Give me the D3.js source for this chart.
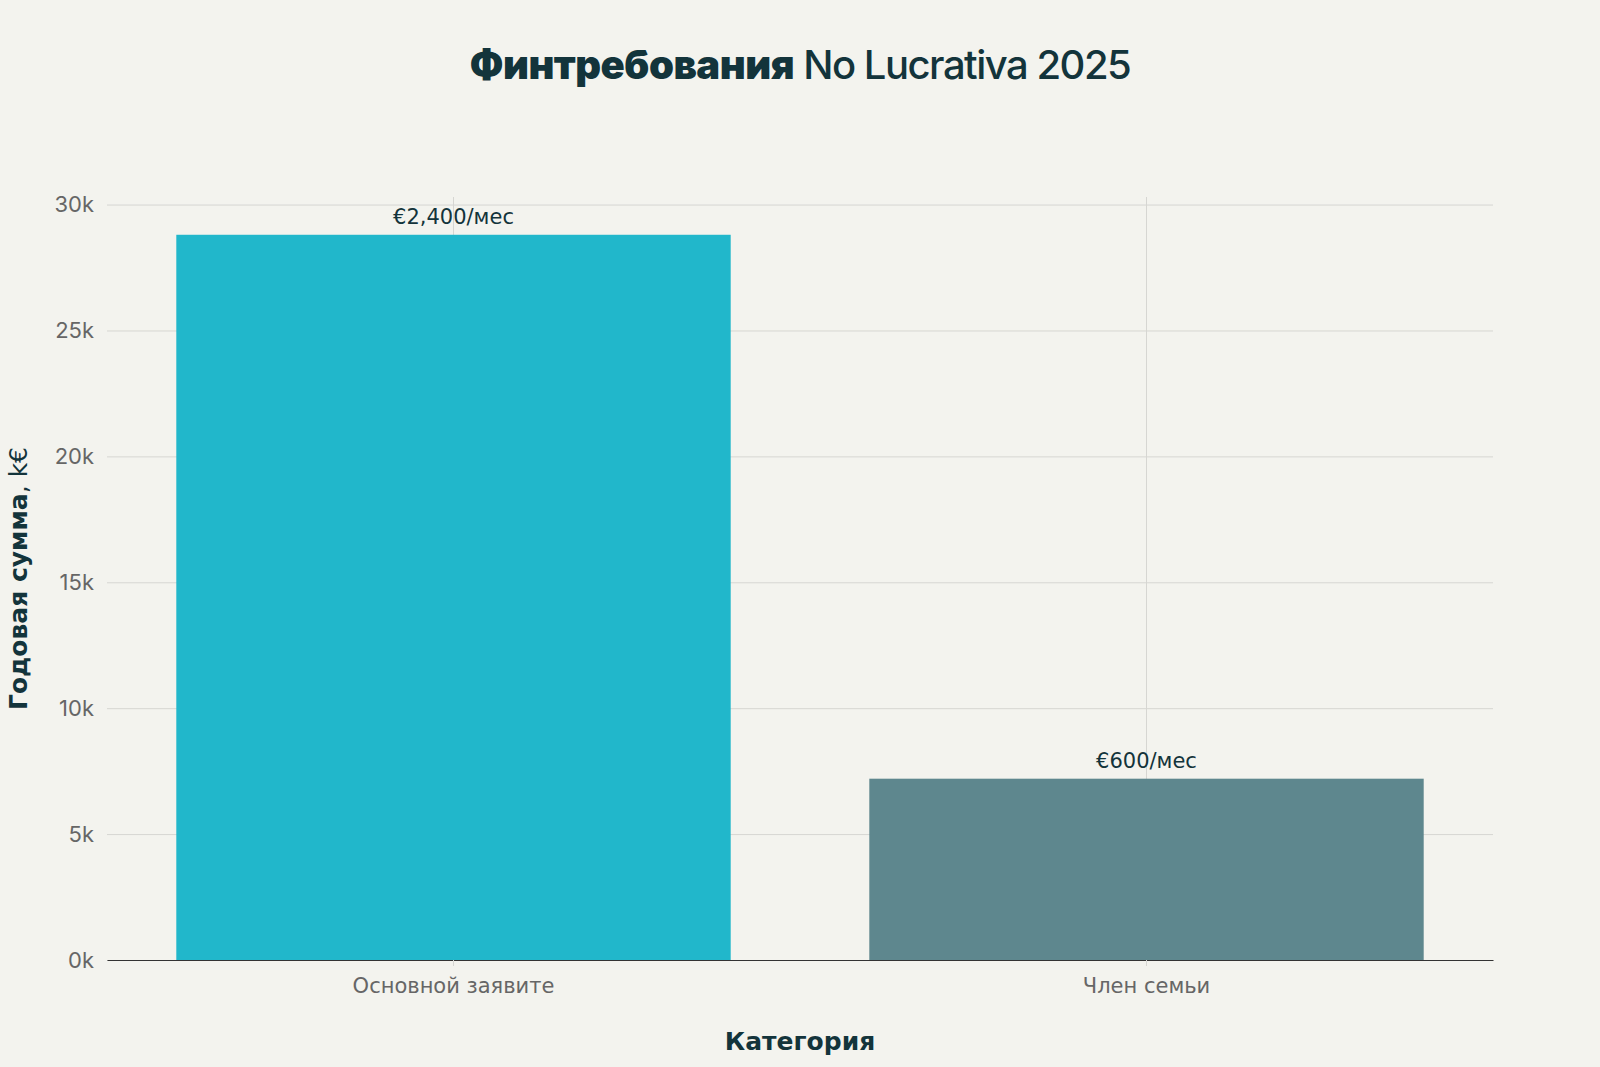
<!DOCTYPE html>
<meta charset="utf-8">
<style>
  body{ margin:0; background:#f3f3ee; }
  .grid line{ stroke:#d6d6d2; stroke-width:1; }
  .grid path{ display:none; }
  .yaxis text{ font-family:Inter, "DejaVu Sans", sans-serif; font-size:22px; fill:#666; }
  .xaxis text{ font-family:"DejaVu Sans", sans-serif; font-size:21px; fill:#666; }
  .label{ font-family:"DejaVu Sans", sans-serif; font-size:21px; fill:#13343b; }
</style>
<body>
<script src="https://cdn.jsdelivr.net/npm/d3@7"></script>
<script>

  var categories = ["Основной заявите", "Член семьи"];
  var annual = [28800, 7200];
  var monthlyLabels = ["€2,400/мес", "€600/мес"];
  var colors = ["#21b7cb", "#5e878e"];
  var yTicks = [0, 5000, 10000, 15000, 20000, 25000, 30000];

  var W = 1600, H = 1067;
  var m = {top:197, right:107, bottom:107, left:107};

  var svg = d3.select("body").append("svg").attr("width", W).attr("height", H);
  svg.append("rect").attr("width", W).attr("height", H).attr("fill", "#f3f3ee");

  var x = d3.scaleBand().domain(categories).range([m.left, W - m.right])
          .paddingInner(0.2).paddingOuter(0.1);
  var y = d3.scaleLinear().domain([0, 30300]).range([H - m.bottom, m.top]);

  // grid
  svg.append("g").attr("class", "grid")
          .attr("transform", "translate(" + m.left + ",0)")
          .call(d3.axisLeft(y).tickValues(yTicks).tickSize(-(W - m.left - m.right)).tickFormat(""));
  svg.append("g").attr("class", "grid")
          .attr("transform", "translate(0," + (H - m.bottom) + ")")
          .call(d3.axisBottom(x).tickSize(-(H - m.top - m.bottom)).tickFormat(""));

  // bars
  svg.selectAll(".bar").data(categories).enter().append("rect")
          .attr("x", d => x(d))
          .attr("width", x.bandwidth())
          .attr("y", (d, i) => y(annual[i]))
          .attr("height", (d, i) => y(0) - y(annual[i]))
          .attr("fill", (d, i) => colors[i]);

  svg.selectAll(".label").data(categories).enter().append("text").attr("class", "label")
          .attr("x", d => x(d) + x.bandwidth() / 2)
          .attr("y", (d, i) => y(annual[i]) - 11)
          .attr("text-anchor", "middle")
          .text((d, i) => monthlyLabels[i]);

  // axes
  var ya = svg.append("g").attr("class", "yaxis")
          .attr("transform", "translate(" + m.left + ",0)")
          .call(d3.axisLeft(y).tickValues(yTicks).tickSize(0).tickPadding(13)
                  .tickFormat(d => (d / 1000) + "k"));
  ya.select(".domain").remove();

  var xa = svg.append("g").attr("class", "xaxis")
          .attr("transform", "translate(0," + (H - m.bottom) + ")")
          .call(d3.axisBottom(x).tickSize(6).tickSizeOuter(0).tickPadding(12));
  xa.select(".domain").attr("stroke", "#333").attr("stroke-width", 1.2);
  xa.selectAll(".tick line").attr("stroke", "#d6d6d2");

  // titles
  var t = svg.append("text").attr("x", W / 2).attr("y", 79).attr("text-anchor", "middle")
          .attr("font-family", "Inter, sans-serif").attr("font-size", 40).attr("fill", "#13343b");
  t.append("tspan").attr("font-weight", 900).attr("letter-spacing", -0.5).text("Финтребования");
  t.append("tspan").attr("font-weight", 500).attr("letter-spacing", -1.5).text(" No Lucrativa 2025");

  svg.append("text").attr("x", W / 2).attr("y", 1050).attr("text-anchor", "middle")
          .attr("font-family", "DejaVu Sans, sans-serif").attr("font-weight", "bold")
          .attr("font-size", 25).attr("fill", "#13343b").text("Категория");

  var yt = svg.append("text").attr("transform", "translate(27," + ((m.top + H - m.bottom) / 2) + ") rotate(-90)")
          .attr("text-anchor", "middle").attr("font-family", "DejaVu Sans, sans-serif")
          .attr("font-size", 25).attr("fill", "#13343b");
  yt.append("tspan").attr("font-weight", "bold").text("Годовая сумма");
  yt.append("tspan").text(", k€");

</script>
</body>
</html>
